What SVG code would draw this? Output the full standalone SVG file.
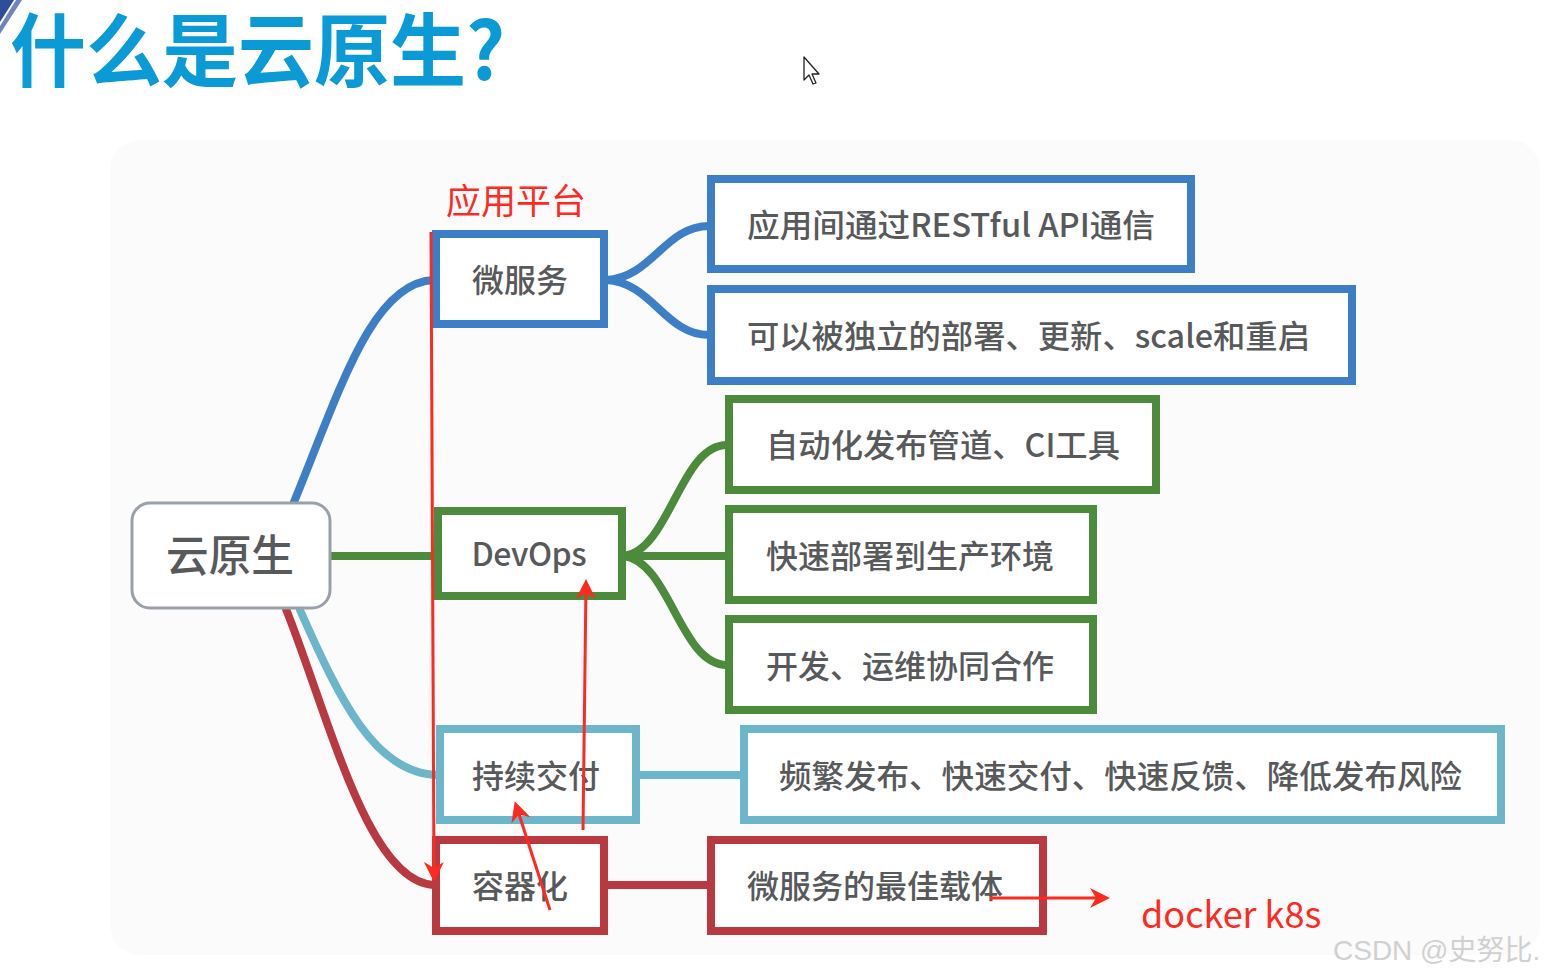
<svg xmlns="http://www.w3.org/2000/svg" width="1545" height="976" viewBox="0 0 1545 976">
<defs>
<style>
.t{font-family:"Noto Sans CJK SC","Liberation Sans",sans-serif;fill:#58595b;font-size:32px;font-weight:500}
.box{fill:#ffffff;stroke-width:8}
.blue{stroke:#3d7fc6}
.green{stroke:#4c8a3c}
.lblue{stroke:#6cb6cc}
.red{stroke:#b8393f}
.conn{fill:none;stroke-width:8;stroke-linecap:round}
.ann{stroke:#fe2a1f;fill:none;stroke-width:3}
</style>
<marker id="ahb" viewBox="0 0 10 10" refX="8" refY="5" markerWidth="24" markerHeight="20" orient="auto" markerUnits="userSpaceOnUse">
<path d="M0,0 L10,5 L0,10 L3,5 Z" fill="#fe2a1f"/>
</marker>
</defs>
<rect width="1545" height="976" fill="#ffffff"/>
<rect x="110" y="140" width="1430" height="815" rx="30" fill="#fbfbfb"/>
<g id="deco">
<polygon points="0,0 14,0 0,22" fill="#2d4f9a"/>
<polygon points="16,0 22,0 0,34 0,26" fill="#6f86bd"/>
</g>
<g id="title">
<text x="10" y="80" font-family="'Noto Sans CJK SC',sans-serif" font-weight="bold" font-size="80" fill="#0a9bd7" textLength="495" lengthAdjust="spacingAndGlyphs">什么是云原生?</text>
</g>
<g id="cursor">
<path d="M804,57 L804,80 L809,75 L813,84 L816,83 L812,74 L819,74 Z" fill="#ffffff" stroke="#222" stroke-width="1.3" stroke-linejoin="round"/>
</g>
<g id="connectors">
<path class="conn blue" d="M294,502 C340,390 372,282 434,280"/>
<path class="conn green" d="M330,556 L436,556"/>
<path class="conn lblue" d="M300,610 C340,700 375,774 438,775"/>
<path class="conn red" d="M286,609 C330,720 368,882 434,885"/>
<path class="conn blue" d="M606,280 C652,278 665,226 709,226"/>
<path class="conn blue" d="M606,280 C652,282 665,335 709,335"/>
<path class="conn green" d="M624,556 C670,550 680,445 727,445"/>
<path class="conn green" d="M624,556 L727,556"/>
<path class="conn green" d="M624,556 C670,562 680,665 727,665"/>
<path class="conn lblue" d="M638,775 L742,775"/>
<path class="conn red" d="M606,885 L709,885"/>
</g>
<g id="root">
<rect x="132" y="503" width="198" height="105" rx="18" fill="#ffffff" stroke="#9aa0a8" stroke-width="3"/>
<text x="230" y="572" class="t" style="font-size:44px" text-anchor="middle" textLength="128" lengthAdjust="spacingAndGlyphs">云原生</text>
</g>
<g id="n-micro">
<rect class="box blue" x="436" y="234" width="168" height="90"/>
<text class="t" x="520" y="292" text-anchor="middle">微服务</text>
</g>
<g id="n-devops">
<rect class="box green" x="438" y="511" width="184" height="85"/>
<text class="t" x="529" y="566" text-anchor="middle" textLength="115">DevOps</text>
</g>
<g id="n-cd">
<rect class="box lblue" x="440" y="729" width="196" height="91"/>
<text class="t" x="536" y="788" text-anchor="middle">持续交付</text>
</g>
<g id="n-container">
<rect class="box red" x="436" y="840" width="168" height="91"/>
<text class="t" x="520" y="898" text-anchor="middle">容器化</text>
</g>
<g id="n-rest">
<rect class="box blue" x="711" y="179" width="480" height="90"/>
<text class="t" x="747" y="237" textLength="408" lengthAdjust="spacingAndGlyphs">应用间通过RESTful API通信</text>
</g>
<g id="n-deploy">
<rect class="box blue" x="711" y="289" width="641" height="92"/>
<text class="t" x="747" y="348" textLength="563" lengthAdjust="spacingAndGlyphs">可以被独立的部署、更新、scale和重启</text>
</g>
<g id="n-ci">
<rect class="box green" x="729" y="399" width="427" height="91"/>
<text class="t" x="766" y="457" textLength="354" lengthAdjust="spacingAndGlyphs">自动化发布管道、CI工具</text>
</g>
<g id="n-fast">
<rect class="box green" x="729" y="509" width="364" height="91"/>
<text class="t" x="766" y="568">快速部署到生产环境</text>
</g>
<g id="n-coop">
<rect class="box green" x="729" y="619" width="364" height="91"/>
<text class="t" x="766" y="678">开发、运维协同合作</text>
</g>
<g id="n-freq">
<rect class="box lblue" x="744" y="729" width="757" height="91"/>
<text class="t" x="779" y="788" textLength="683" lengthAdjust="spacingAndGlyphs">频繁发布、快速交付、快速反馈、降低发布风险</text>
</g>
<g id="n-carrier">
<rect class="box red" x="711" y="840" width="332" height="91"/>
<text class="t" x="747" y="898">微服务的最佳载体</text>
</g>
<g id="annotations">
<text x="446" y="214" font-family="'Noto Sans CJK SC',sans-serif" font-size="35" fill="#fe2a1f">应用平台</text>
<path class="ann" d="M431,232 L434,878" marker-end="url(#ahb)"/>
<path class="ann" d="M583,830 L586,583" marker-end="url(#ahb)"/>
<path class="ann" d="M550,910 L516,805" marker-end="url(#ahb)"/>
<path class="ann" d="M990,898 L1106,898" marker-end="url(#ahb)"/>
<text x="1141" y="928" font-family="'Noto Sans CJK SC',sans-serif" font-size="36" fill="#fe2a1f">docker k8s</text>
<text x="1333" y="960" font-family="'Liberation Sans','Noto Sans CJK SC',sans-serif" font-size="28" fill="#d0d0d0">CSDN @史努比.</text>
</g>
</svg>
